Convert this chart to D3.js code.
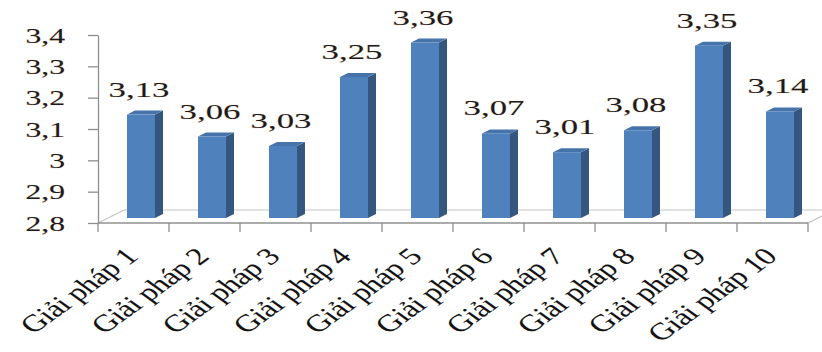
<!DOCTYPE html>
<html>
<head>
<meta charset="utf-8">
<script src="https://cdn.jsdelivr.net/npm/d3@7"></script>
<style>
  html, body { margin: 0; padding: 0; background: #fff; }
  svg { display: block; }
  text { font-family: "Liberation Serif", "Times New Roman", serif; }
</style>
</head>
<body>
<svg id="chart" width="822" height="352"></svg>
<script>
// Mean score per solution
const categories = ["Giải pháp 1", "Giải pháp 2", "Giải pháp 3", "Giải pháp 4", "Giải pháp 5",
                    "Giải pháp 6", "Giải pháp 7", "Giải pháp 8", "Giải pháp 9", "Giải pháp 10"];
const values = [3.13, 3.06, 3.03, 3.25, 3.36, 3.07, 3.01, 3.08, 3.35, 3.14];
const yTicks = [2.8, 2.9, 3.0, 3.1, 3.2, 3.3, 3.4];

const W = 822, H = 352;
const stretch = 1.58;               // horizontal text stretch
const comma = s => s.replace(".", ",");

const svg = d3.select("#chart");

const x = d3.scaleBand().domain(categories).range([98, 808]).paddingInner(0).paddingOuter(0);
const y = d3.scaleLinear().domain([2.8, 3.4]).range([223, 35]);

// floor depth vector and bar placement within the floor
const floorD = { dx: 26, dy: -13 };
const frontD = { dx: 7.5, dy: -5 };
const barD = { dx: 8, dy: -4 };
const barW = 28;

// floor outline
const x0 = x.range()[0], x1 = x.range()[1], yb = y(2.8);
svg.append("path")
  .attr("d", `M${x0},${yb} L${x0 + floorD.dx},${yb + floorD.dy} L${x1 + floorD.dx},${yb + floorD.dy} L${x1},${yb}`)
  .attr("fill", "none").attr("stroke", "#c4c4c4").attr("stroke-width", 1.2);

// y axis
const yAxis = d3.axisLeft(y).tickValues(yTicks).tickSize(10).tickSizeOuter(0)
  .tickFormat(d => comma(d3.format("")(+d.toFixed(1))));
const gy = svg.append("g").attr("transform", `translate(${x0},0)`).call(yAxis);
gy.select(".domain").attr("stroke", "#8f8f8f").attr("stroke-width", 1.3);
gy.selectAll(".tick line").attr("stroke", "#8f8f8f").attr("stroke-width", 1.3);
gy.selectAll(".tick text")
  .attr("x", null).attr("dy", "0.36em")
  .attr("transform", `translate(-33,0) scale(${stretch},1)`)
  .attr("text-anchor", "end")
  .attr("font-size", 20).attr("fill", "#1a1a22")
  .attr("stroke", "rgba(215,140,50,0.35)").attr("stroke-width", 0.7).attr("paint-order", "stroke");

// x axis baseline with ticks at category boundaries
const gx = svg.append("g").attr("transform", `translate(0,${yb})`);
gx.append("line").attr("x1", x0).attr("x2", x1).attr("y1", 0).attr("y2", 0)
  .attr("stroke", "#8f8f8f").attr("stroke-width", 1.3);
const bounds = categories.map(c => x(c)).concat([x1]);
gx.selectAll("line.tk").data(bounds).join("line").attr("class", "tk")
  .attr("x1", d => d).attr("x2", d => d).attr("y1", 0).attr("y2", 9)
  .attr("stroke", "#8f8f8f").attr("stroke-width", 1.3);

// category labels
const xAxis = d3.axisBottom(x).tickSize(0).tickSizeOuter(0);
const gl = svg.append("g").attr("transform", `translate(0,${yb})`).call(xAxis);
gl.select(".domain").remove();
gl.selectAll(".tick text")
  .attr("y", null).attr("dy", null)
  .attr("transform", `translate(6,35) scale(1.38,1) rotate(-45)`)
  .attr("text-anchor", "end")
  .attr("font-size", 24).attr("letter-spacing", -0.3).attr("fill", "#111")
  .attr("stroke", "rgba(60,60,60,0.25)").attr("stroke-width", 0.4);

// 3D columns
const bars = svg.append("g").selectAll("g").data(values).join("g");
bars.each(function(v, i) {
  const g = d3.select(this);
  const cx = x(categories[i]) + x.bandwidth() / 2 + frontD.dx;
  const l = cx - barW / 2, r = cx + barW / 2;
  const top = y(v) + frontD.dy, bot = y(2.8) + frontD.dy;
  // side face
  g.append("path")
    .attr("d", `M${r},${bot} L${r + barD.dx},${bot + barD.dy} L${r + barD.dx},${top + barD.dy} L${r},${top} Z`)
    .attr("fill", "#35577f");
  // top face
  g.append("path")
    .attr("d", `M${l},${top} L${l + barD.dx},${top + barD.dy} L${r + barD.dx},${top + barD.dy} L${r},${top} Z`)
    .attr("fill", "#4773ab");
  // front face
  g.append("rect").attr("x", l).attr("y", top).attr("width", barW).attr("height", bot - top)
    .attr("fill", "#4f81bd");
});

// value labels
svg.append("g").selectAll("text").data(values).join("text")
  .attr("transform", (v, i) => `translate(${x(categories[i]) + x.bandwidth() / 2 + 5.5},${y(v) + frontD.dy - 18}) scale(${stretch},1)`)
  .attr("text-anchor", "middle")
  .attr("font-size", 22).attr("fill", "#1a1a22")
  .attr("stroke", "rgba(215,140,50,0.35)").attr("stroke-width", 0.7).attr("paint-order", "stroke")
  .text(v => comma(v.toFixed(2)));
</script>
</body>
</html>
